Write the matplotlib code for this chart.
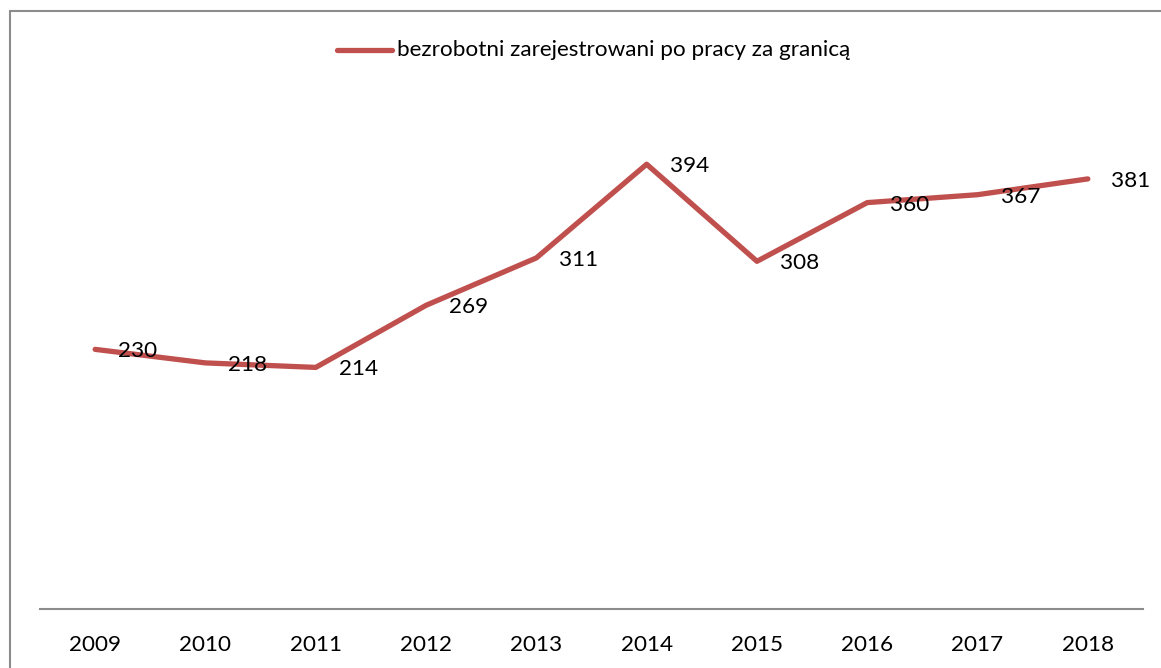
import matplotlib
matplotlib.use("Agg")
import matplotlib.pyplot as plt
from matplotlib.patches import Rectangle
from matplotlib.lines import Line2D

years = ["2009", "2010", "2011", "2012", "2013", "2014", "2015", "2016", "2017", "2018"]
values = [230, 218, 214, 269, 311, 394, 308, 360, 367, 381]
series_name = "bezrobotni zarejestrowani po pracy za granicą"

W, H = 1161, 668
FS = 16.2
plt.rcParams['font.family'] = ['Lato', 'DejaVu Sans']
fig = plt.figure(figsize=(W / 100, H / 100), dpi=100)

# outer chart border (cropped at right/bottom)
fig.patches.append(Rectangle((10 / W, -0.1), 1.2, (H - 11) / H + 0.1,
                             transform=fig.transFigure, fill=False,
                             edgecolor='#8c8c8c', linewidth=1.5))

left, right = 40 / W, 1143 / W
bottom, top = 1 - 609 / H, 1 - 101 / H
ax = fig.add_axes([left, bottom, right - left, top - bottom])
x = list(range(len(years)))
ax.plot(x, values, color='#C0504D', linewidth=3.8, solid_capstyle='round',
        solid_joinstyle='round')
for xi, v in zip(x, values):
    ax.annotate(str(v), (xi, v), xytext=(23, -2), textcoords='offset pixels',
                ha='left', va='center', fontsize=FS, color='black')
ax.set_xlim(-0.5, len(years) - 0.5)
ax.set_ylim(0, 450)
ax.set_xticks(x)
ax.set_xticklabels(years, fontsize=FS)
ax.tick_params(axis='x', length=0, pad=19)
ax.set_yticks([])
for s in ['left', 'right', 'top']:
    ax.spines[s].set_visible(False)
ax.spines['bottom'].set_color('#8c8c8c')
ax.spines['bottom'].set_linewidth(1.5)
ax.patch.set_visible(False)

# legend
fig.lines.append(Line2D([337 / W, 392 / W], [1 - 50 / H, 1 - 50 / H], transform=fig.transFigure,
                        color='#C0504D', linewidth=3.8, solid_capstyle='round'))
fig.text(397 / W, 1 - 50 / H, series_name, ha='left', va='center', fontsize=FS)

fig.savefig("out.png", dpi=100)
